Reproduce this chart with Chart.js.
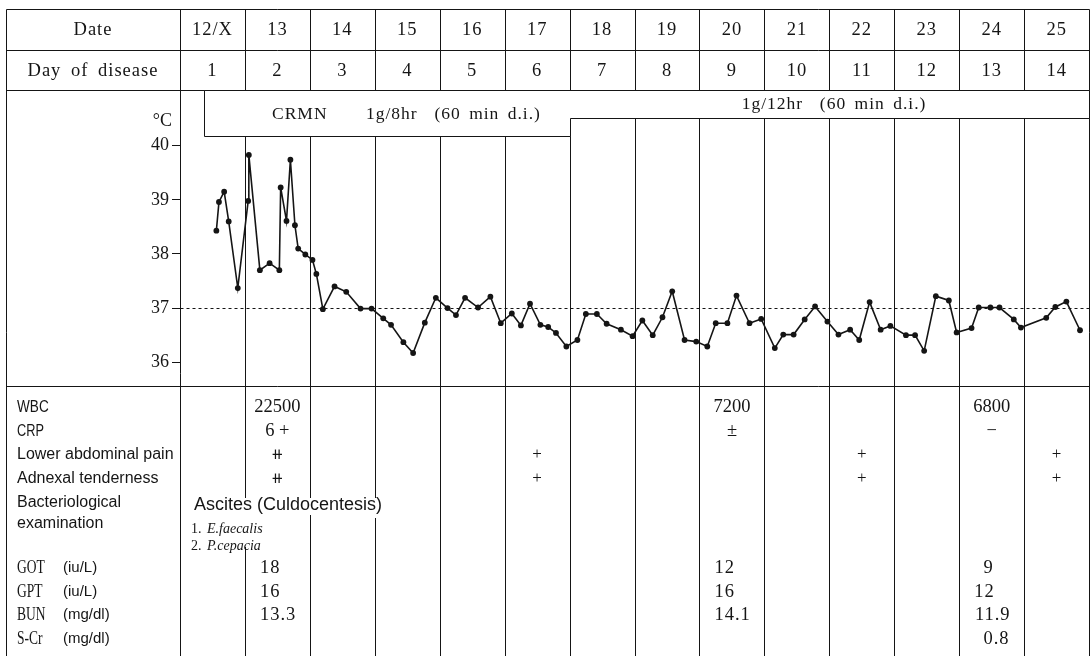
<!DOCTYPE html>
<html>
<head>
<meta charset="utf-8">
<script src="https://cdn.jsdelivr.net/npm/chart.js@4/dist/chart.umd.min.js"></script>
<style>
  html, body { margin: 0; padding: 0; background: #fff; overflow: hidden; }
  canvas { display: block; }
</style>
</head>
<body>
<canvas id="c" width="1092" height="656"></canvas>
<script>
// ---------------- data ----------------
const dates = ['12/X','13','14','15','16','17','18','19','20','21','22','23','24','25'];
const diseaseDays = ['1','2','3','4','5','6','7','8','9','10','11','12','13','14'];

// time of each temperature reading, in days from the start of day 1
const tempDay = [0.56,0.60,0.68,0.75,0.89,1.05,1.06,1.23,1.38,1.53,1.55,1.64,1.70,1.77,1.82,1.93,
  2.04,2.10,2.20,2.38,2.56,2.78,2.95,3.13,3.25,3.44,3.59,3.77,3.94,4.12,4.25,4.39,4.59,4.78,4.94,
  5.11,5.25,5.39,5.55,5.67,5.79,5.95,6.12,6.25,6.42,6.57,6.79,6.97,7.12,7.28,7.43,7.58,7.77,7.95,
  8.12,8.25,8.43,8.57,8.77,8.95,9.16,9.29,9.45,9.62,9.78,9.97,10.14,10.32,10.46,10.62,10.79,10.94,
  11.18,11.32,11.46,11.64,11.84,11.96,12.19,12.30,12.48,12.62,12.84,12.95,13.34,13.48,13.65,13.86];
// body temperature (°C)
const tempC = [38.43,38.96,39.15,38.60,37.37,38.98,39.83,37.70,37.83,37.70,39.23,38.61,39.74,38.53,38.10,37.99,
  37.89,37.63,36.98,37.40,37.30,36.99,36.99,36.81,36.69,36.37,36.17,36.73,37.19,37.00,36.87,37.19,37.01,37.21,36.72,
  36.90,36.68,37.08,36.69,36.65,36.54,36.29,36.41,36.89,36.89,36.71,36.60,36.48,36.77,36.50,36.83,37.31,36.41,36.38,
  36.29,36.72,36.72,37.23,36.72,36.80,36.26,36.51,36.51,36.79,37.03,36.75,36.51,36.60,36.41,37.11,36.60,36.67,
  36.50,36.50,36.21,37.22,37.14,36.55,36.63,37.01,37.01,37.01,36.79,36.64,36.82,37.02,37.12,36.59];

const yTicks = [36,37,38,39,40];
const normalTemp = 37;

const drugName = 'CRMN';
const regimen1 = '1g/8hr  (60 min d.i.)';
const regimen2 = '1g/12hr  (60 min d.i.)';
const regimenChangeDay = 6;   // regimen changes at the start of day 7

const wbc = ['','22500','','','','','','','7200','','','','6800',''];
const crp = ['','6 +','','','','','','','±','','','','−',''];
const abdominalPain = ['','⧺','','','','+','','','','','+','','','+'];
const adnexalTenderness = ['','⧺','','','','+','','','','','+','','','+'];
const got = ['','18','','','','','','','12','','','','9',''];
const gpt = ['','16','','','','','','','16','','','','12',''];
const bun = ['','13.3','','','','','','','14.1','','','','11.9',''];
const sCr = ['','','','','','','','','','','','','0.8',''];

const bacteriologySample = 'Ascites (Culdocentesis)';
const bacteriologyIsolates = ['E.faecalis','P.cepacia'];

// ---------------- drawing helpers ----------------
const INK = '#151515';
function txt(ctx, s, x, y, o) {
  o = o || {};
  ctx.save();
  ctx.font = o.font || '18px "Liberation Serif"';
  ctx.fillStyle = INK;
  ctx.textBaseline = 'middle';
  ctx.textAlign = o.align || 'left';
  try { ctx.letterSpacing = o.ls || '0px'; ctx.wordSpacing = o.ws || '0px'; } catch (e) {}
  const sx = o.sx || 1;
  ctx.translate(x, y);
  ctx.scale(sx, 1);
  ctx.fillText(s, 0, 0);
  ctx.restore();
}
function seg(ctx, x1, y1, x2, y2) {
  ctx.beginPath(); ctx.moveTo(x1, y1); ctx.lineTo(x2, y2); ctx.stroke();
}

const overlay = {
  id: 'overlay',
  beforeDatasetsDraw(chart) {
    const { ctx, scales: { x, y } } = chart;
    const X = v => Math.round(x.getPixelForValue(v)) + 0.5;
    const L = 6.5, R = X(14), T = 9.5, r1 = 50.5, r2 = 90.5, B = 386.5, H = 656;
    ctx.save();
    ctx.strokeStyle = INK;
    ctx.lineWidth = 1;
    // frame and row separators
    seg(ctx, L, T, R, T); seg(ctx, L, T, L, H); seg(ctx, R, T, R, H);
    seg(ctx, L, r1, R, r1); seg(ctx, L, r2, R, r2); seg(ctx, L, B, R, B);
    // header column lines
    for (let i = 0; i < 14; i++) seg(ctx, X(i), T, X(i), r2);
    // axis / label separator
    seg(ctx, X(0), r2, X(0), H);
    // temperature-area column lines (start below the drug box)
    for (let i = 1; i < 14; i++) {
      const top = i < regimenChangeDay ? 136.5 : 118.5;
      seg(ctx, X(i), top, X(i), B);
    }
    // lab-table column lines (gaps where bacteriology text runs across)
    const gaps = { 1: [498, 547], 2: [498, 515], 3: [498, 518] };
    for (let i = 1; i < 14; i++) {
      if (gaps[i]) { seg(ctx, X(i), B, X(i), gaps[i][0]); seg(ctx, X(i), gaps[i][1], X(i), H); }
      else seg(ctx, X(i), B, X(i), H);
    }
    // normal temperature dotted line
    const yn = Math.round(y.getPixelForValue(normalTemp)) + 0.5;
    ctx.setLineDash([3, 3]);
    seg(ctx, X(0), yn, R, yn);
    ctx.setLineDash([]);
    // drug administration box
    const bx = 204.5, xs = X(regimenChangeDay);
    ctx.beginPath();
    ctx.moveTo(bx, r2); ctx.lineTo(R, r2); ctx.lineTo(R, 118.5); ctx.lineTo(xs, 118.5);
    ctx.lineTo(xs, 136.5); ctx.lineTo(bx, 136.5); ctx.closePath();
    ctx.fillStyle = '#fff'; ctx.fill(); ctx.stroke();
    ctx.restore();
  },
  afterDraw(chart) {
    const { ctx, scales: { x } } = chart;
    const C = i => x.getPixelForValue(i + 0.5);
    const head = { font: '18.5px "Liberation Serif"', align: 'center', ls: '1px' };
    // header
    txt(ctx, 'Date', 93, 30.5, head);
    txt(ctx, 'Day of disease', 93, 71, Object.assign({}, head, { ws: '4px' }));
    dates.forEach((d, i) => txt(ctx, d, C(i), 30.5, head));
    diseaseDays.forEach((d, i) => txt(ctx, d, C(i), 71, head));
    // unit
    txt(ctx, '°C', 172, 121, { font: '18px "Liberation Serif"', align: 'right' });
    // drug box text
    const bf = { font: '17.5px "Liberation Serif"', ls: '1px', ws: '3px' };
    txt(ctx, drugName, 272, 114, bf);
    txt(ctx, regimen1, 366, 114, bf);
    txt(ctx, regimen2, 834, 104, Object.assign({}, bf, { align: 'center' }));

    // lab table labels
    const lab = { font: '16px "Liberation Sans"' };
    const lx = 17;
    txt(ctx, 'WBC', lx, 407, { font: '17px "Liberation Sans"', sx: 0.8 });
    txt(ctx, 'CRP', lx, 431, { font: '17px "Liberation Sans"', sx: 0.75 });
    txt(ctx, 'Lower abdominal pain', lx, 455, lab);
    txt(ctx, 'Adnexal tenderness', lx, 479, lab);
    txt(ctx, 'Bacteriological', lx, 503, lab);
    txt(ctx, 'examination', lx, 524, lab);
    const chem = [['GOT', '(iu/L)', 568], ['GPT', '(iu/L)', 592], ['BUN', '(mg/dl)', 615], ['S-Cr', '(mg/dl)', 639]];
    chem.forEach(([a, u, yy]) => {
      txt(ctx, a, lx, yy, { font: '18px "Liberation Serif"', sx: 0.75 });
      txt(ctx, u, 63, yy, { font: '15px "Liberation Sans"' });
    });

    // centered values
    const val = { font: '18.5px "Liberation Serif"', align: 'center' };
    wbc.forEach((v, i) => v && txt(ctx, v, C(i), 407, val));
    crp.forEach((v, i) => v && txt(ctx, v, C(i), 431, val));
    const sym = v => v === '⧺'
      ? { font: '15px "DejaVu Sans"', align: 'center' }
      : { font: '17px "Liberation Serif"', align: 'center' };
    abdominalPain.forEach((v, i) => v && txt(ctx, v, C(i), 455, sym(v)));
    adnexalTenderness.forEach((v, i) => v && txt(ctx, v, C(i), 479, sym(v)));

    // decimal-aligned chemistry values
    const numFont = '18.5px "Liberation Serif"';
    const dec = (arr, yy) => arr.forEach((v, i) => {
      if (!v) return;
      ctx.save(); ctx.font = numFont;
      const intW = ctx.measureText(v.split('.')[0]).width;
      ctx.restore();
      txt(ctx, v, C(i) - intW + 1, yy, { font: numFont, ls: '1px' });
    });
    dec(got, 568); dec(gpt, 592); dec(bun, 615); dec(sCr, 639);

    // bacteriology
    txt(ctx, bacteriologySample, 194, 505, { font: '18px "Liberation Sans"' });
    bacteriologyIsolates.forEach((s, k) => {
      const yy = 529 + k * 17;
      txt(ctx, (k + 1) + '.', 191, yy, { font: '14px "Liberation Serif"' });
      txt(ctx, s, 207, yy, { font: 'italic 14px "Liberation Serif"' });
    });
  }
};

new Chart(document.getElementById('c'), {
  type: 'line',
  data: {
    datasets: [{
      data: tempDay.map((d, i) => ({ x: d, y: tempC[i] })),
      borderColor: INK,
      backgroundColor: INK,
      borderWidth: 1.6,
      pointRadius: 2.9,
      pointHoverRadius: 2.9,
      pointBorderWidth: 0,
      pointBackgroundColor: INK,
      tension: 0,
      fill: false
    }]
  },
  options: {
    responsive: false,
    animation: false,
    devicePixelRatio: 1,
    events: [],
    layout: { padding: { left: 0, right: 2, top: 90.5, bottom: 270 } },
    plugins: { legend: { display: false }, tooltip: { enabled: false } },
    scales: {
      x: { type: 'linear', min: 0, max: 14, display: false },
      y: {
        min: 35.56, max: 41.02,
        afterBuildTicks(s) { s.ticks = yTicks.map(v => ({ value: v })); },
        afterFit(s) { s.width = 180; },
        grid: { drawOnChartArea: false, drawTicks: true, tickLength: 8, color: INK, lineWidth: 1 },
        border: { display: false },
        ticks: { color: INK, font: { family: 'Liberation Serif', size: 18 }, padding: 3 }
      }
    }
  },
  plugins: [overlay]
});
</script>
</body>
</html>
